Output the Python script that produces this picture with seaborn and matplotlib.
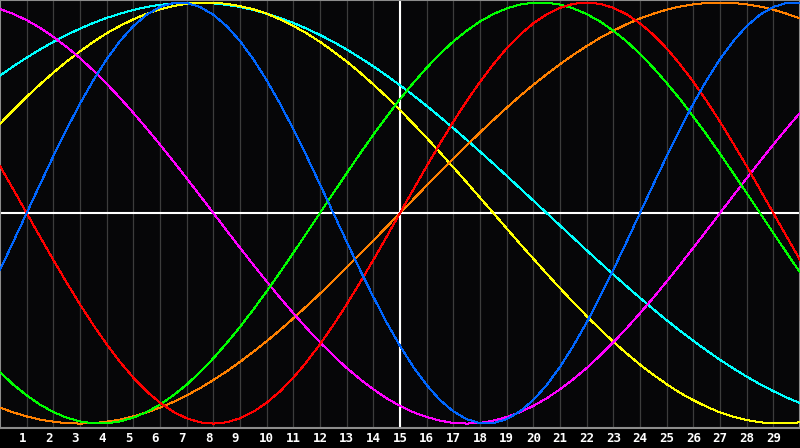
import matplotlib
matplotlib.use("Agg")
import matplotlib.pyplot as plt
import numpy as np
import pandas as pd
import seaborn as sns

# ---- data: values every half day, day 0 .. day 30 ----
days = [i / 2 for i in range(61)]
tick_days = list(range(1, 30))
tick_labels = [str(d) for d in tick_days]

blue_23 = [-0.270, -0.136, 0.000, 0.136, 0.270, 0.398, 0.520, 0.631, 0.731, 0.817,
           0.888, 0.942, 0.979, 0.998, 0.998, 0.979, 0.942, 0.888, 0.817, 0.731,
           0.631, 0.520, 0.398, 0.270, 0.136, 0.000, -0.136, -0.270, -0.398, -0.520,
           -0.631, -0.731, -0.817, -0.888, -0.942, -0.979, -0.998, -0.998, -0.979, -0.942,
           -0.888, -0.817, -0.731, -0.631, -0.520, -0.398, -0.270, -0.136, 0.000, 0.136,
           0.270, 0.398, 0.520, 0.631, 0.731, 0.817, 0.888, 0.942, 0.979, 0.998, 0.998]
red_28 = [0.223, 0.112, 0.000, -0.112, -0.223, -0.330, -0.434, -0.532, -0.623, -0.707,
          -0.782, -0.847, -0.901, -0.944, -0.975, -0.994, -1.000, -0.994, -0.975, -0.944,
          -0.901, -0.847, -0.782, -0.707, -0.623, -0.532, -0.434, -0.330, -0.223, -0.112,
          0.000, 0.112, 0.223, 0.330, 0.434, 0.532, 0.623, 0.707, 0.782, 0.847,
          0.901, 0.944, 0.975, 0.994, 1.000, 0.994, 0.975, 0.944, 0.901, 0.847,
          0.782, 0.707, 0.623, 0.532, 0.434, 0.330, 0.223, 0.112, 0.000, -0.112, -0.223]
green_33 = [-0.756, -0.815, -0.866, -0.910, -0.945, -0.972, -0.990, -0.999, -0.999, -0.990,
            -0.972, -0.945, -0.910, -0.866, -0.815, -0.756, -0.690, -0.618, -0.541, -0.458,
            -0.372, -0.282, -0.189, -0.095, 0.000, 0.095, 0.189, 0.282, 0.372, 0.458,
            0.541, 0.618, 0.690, 0.756, 0.815, 0.866, 0.910, 0.945, 0.972, 0.990,
            0.999, 0.999, 0.990, 0.972, 0.945, 0.910, 0.866, 0.815, 0.756, 0.690,
            0.618, 0.541, 0.458, 0.372, 0.282, 0.189, 0.095, 0.000, -0.095, -0.189, -0.282]
magenta_38 = [0.969, 0.946, 0.916, 0.880, 0.837, 0.789, 0.736, 0.677, 0.614, 0.547,
              0.476, 0.402, 0.325, 0.246, 0.165, 0.083, 0.000, -0.083, -0.165, -0.246,
              -0.325, -0.402, -0.476, -0.547, -0.614, -0.677, -0.736, -0.789, -0.837, -0.880,
              -0.916, -0.946, -0.969, -0.986, -0.997, -1.000, -0.997, -0.986, -0.969, -0.946,
              -0.916, -0.880, -0.837, -0.789, -0.736, -0.677, -0.614, -0.547, -0.476, -0.402,
              -0.325, -0.246, -0.165, -0.083, 0.000, 0.083, 0.165, 0.246, 0.325, 0.402, 0.476]
yellow_43 = [0.424, 0.489, 0.552, 0.611, 0.667, 0.720, 0.768, 0.813, 0.854, 0.889,
             0.920, 0.947, 0.968, 0.983, 0.994, 0.999, 0.999, 0.994, 0.983, 0.968,
             0.947, 0.920, 0.889, 0.854, 0.813, 0.768, 0.720, 0.667, 0.611, 0.552,
             0.489, 0.424, 0.357, 0.288, 0.217, 0.146, 0.073, 0.000, -0.073, -0.146,
             -0.217, -0.288, -0.357, -0.424, -0.489, -0.552, -0.611, -0.667, -0.720, -0.768,
             -0.813, -0.854, -0.889, -0.920, -0.947, -0.968, -0.983, -0.994, -0.999, -0.999, -0.994]
orange_48 = [-0.924, -0.947, -0.966, -0.981, -0.991, -0.998, -1.000, -0.998, -0.991, -0.981,
             -0.966, -0.947, -0.924, -0.897, -0.866, -0.832, -0.793, -0.752, -0.707, -0.659,
             -0.609, -0.556, -0.500, -0.442, -0.383, -0.321, -0.259, -0.195, -0.131, -0.065,
             0.000, 0.065, 0.131, 0.195, 0.259, 0.321, 0.383, 0.442, 0.500, 0.556,
             0.609, 0.659, 0.707, 0.752, 0.793, 0.832, 0.866, 0.897, 0.924, 0.947,
             0.966, 0.981, 0.991, 0.998, 1.000, 0.998, 0.991, 0.981, 0.966, 0.947, 0.924]
cyan_53 = [0.653, 0.697, 0.738, 0.777, 0.813, 0.846, 0.876, 0.903, 0.927, 0.947,
           0.965, 0.979, 0.989, 0.996, 1.000, 1.000, 0.996, 0.989, 0.979, 0.965,
           0.947, 0.927, 0.903, 0.876, 0.846, 0.813, 0.777, 0.738, 0.697, 0.653,
           0.607, 0.559, 0.509, 0.457, 0.403, 0.348, 0.292, 0.235, 0.177, 0.118,
           0.059, 0.000, -0.059, -0.118, -0.177, -0.235, -0.292, -0.348, -0.403, -0.457,
           -0.509, -0.559, -0.607, -0.653, -0.697, -0.738, -0.777, -0.813, -0.846, -0.876, -0.903]

series = {
    "cyan": cyan_53,
    "yellow": yellow_43,
    "orange": orange_48,
    "magenta": magenta_38,
    "green": green_33,
    "red": red_28,
    "blue": blue_23,
}
palette = {
    "cyan": "#00ffff",
    "yellow": "#ffff00",
    "orange": "#ff8000",
    "magenta": "#ff00ff",
    "green": "#00ff00",
    "red": "#ff0000",
    "blue": "#0066ff",
}

df = pd.concat(
    [pd.DataFrame({"day": days, "value": vals, "cycle": name}) for name, vals in series.items()],
    ignore_index=True,
)

# ---- style ----
sns.set_style("dark", rc={
    "axes.facecolor": "#060608",
    "figure.facecolor": "#000000",
    "axes.edgecolor": "#8c8c8c",
})

fig = plt.figure(figsize=(8, 4.48), dpi=100, facecolor="#000000")
ax = fig.add_axes([0.0, 1 - 428 / 448, 1.0, 428 / 448])
ax.set_facecolor("#060608")

# vertical day grid
for d in tick_days:
    ax.axvline(d, color="#3c3c3c", lw=0.9, zorder=1)

ax.axhline(0, color="white", lw=1.5, zorder=2)
ax.axvline(15, color="white", lw=1.5, zorder=2)

sns.lineplot(data=df, x="day", y="value", hue="cycle", palette=palette,
             hue_order=list(series.keys()), estimator=None, sort=False,
             legend=False, lw=0.72, ax=ax, zorder=3, antialiased=False)

ax.set_xlim(0, 30)
ax.set_ylim(-1.021, 1.012)
ax.set_yticks([])
ax.set_xticks(tick_days)
ax.set_xticklabels([f"{t:<2}" for t in tick_labels], fontfamily="DejaVu Sans Mono",
                   fontweight="bold", fontsize=9, color="white")
ax.tick_params(axis="x", length=0, pad=3)
ax.set_xlabel("")
ax.set_ylabel("")
ax.grid(False)
for side in ["left", "right", "top", "bottom"]:
    ax.spines[side].set_visible(True)
    ax.spines[side].set_color("#8c8c8c")
    ax.spines[side].set_linewidth(1.5)

fig.savefig("out.png", dpi=100, facecolor="#000000")
